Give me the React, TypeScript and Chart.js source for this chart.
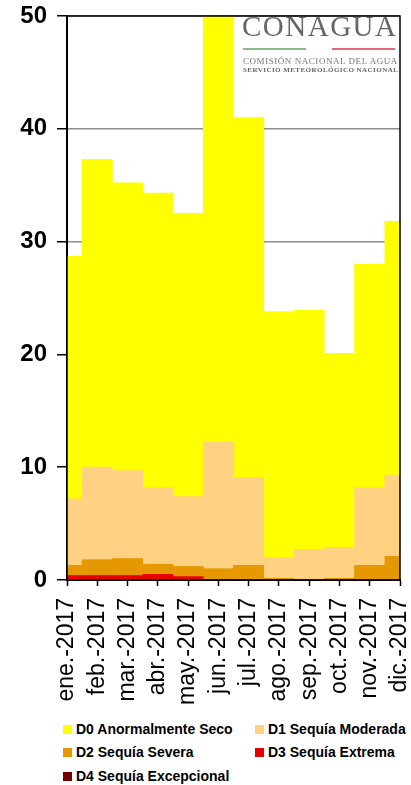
import React, { useEffect, useRef } from 'react';
import { Chart, registerables } from 'chart.js';

Chart.register(...registerables);

const categories = ['ene.-2017', 'feb.-2017', 'mar.-2017', 'abr.-2017', 'may.-2017', 'jun.-2017', 'jul.-2017', 'ago.-2017', 'sep.-2017', 'oct.-2017', 'nov.-2017', 'dic.-2017'];
const d0Values = [28.7, 37.3, 35.2, 34.3, 32.5, 50.0, 41.0, 23.8, 23.9, 20.1, 28.0, 31.8];
const d1Values = [7.2, 10.0, 9.7, 8.2, 7.4, 12.2, 9.1, 2.0, 2.7, 2.9, 8.2, 9.3];
const d2Values = [1.3, 1.8, 1.9, 1.4, 1.2, 1.0, 1.3, 0.15, 0.05, 0.15, 1.3, 2.1];
const d3Values = [0.4, 0.4, 0.4, 0.5, 0.3, 0, 0, 0, 0, 0, 0, 0];
const d4Values = [0, 0, 0, 0, 0, 0, 0, 0, 0, 0, 0, 0];
const seriesLabels = ['D0 Anormalmente Seco', 'D1 Sequía Moderada', 'D2 Sequía Severa', 'D3 Sequía Extrema', 'D4 Sequía Excepcional'];
const seriesColors = ['#FFFF00', '#FFD283', '#E69800', '#E60000', '#730000'];
const yMin = 0;
const yMax = 50;
const yStep = 10;

const FONT = "'Liberation Sans', Arial, sans-serif";
const SERIF = "'Liberation Serif', 'DejaVu Serif', serif";

export default function App() {
  const ref = useRef<HTMLCanvasElement>(null);

  useEffect(() => {
    document.body.style.margin = '0';
    const framePlugin = {
      id: 'frame',
      afterDatasetsDraw(chart: any) {
        const { ctx, chartArea: a } = chart;
        ctx.save();
        ctx.strokeStyle = '#000';
        ctx.lineWidth = 1.5;
        ctx.strokeRect(a.left, a.top, a.right - a.left, a.bottom - a.top);
        ctx.restore();
      },
    };
    const series = [d0Values, d1Values, d2Values, d3Values, d4Values];
    const chart = new Chart(ref.current as HTMLCanvasElement, {
      type: 'bar',
      data: {
        labels: categories,
        datasets: series.map((data, i) => ({
          label: seriesLabels[i],
          data,
          backgroundColor: seriesColors[i],
          borderWidth: 0,
          barPercentage: 1,
          categoryPercentage: 1,
          grouped: false,
          order: 5 - i,
          clip: 0,
        })) as any,
      },
      options: {
        responsive: false,
        animation: false,
        layout: { padding: { top: 16, right: 11, left: 0, bottom: 0 } },
        plugins: { legend: { display: false }, tooltip: { enabled: false } },
        scales: {
          x: {
            offset: false,
            grid: { offset: false, drawOnChartArea: false, tickLength: 6, tickColor: '#000', tickWidth: 1.5 },
            border: { color: '#000', width: 2 },
            ticks: {
              minRotation: 90,
              maxRotation: 90,
              autoSkip: false,
              padding: 12,
              color: '#000',
              font: { family: FONT, size: 23 },
            },
            afterFit(s: any) {
              s.height = 130;
              s.paddingLeft = 0;
              s.paddingRight = 0;
            },
          },
          y: {
            min: yMin,
            max: yMax,
            ticks: {
              stepSize: yStep,
              padding: 10,
              color: '#000',
              font: { family: FONT, size: 24, weight: 'bold' },
            },
            grid: { color: '#8c8c8c', lineWidth: 1.5, tickColor: '#000', tickLength: 10, tickWidth: 1.5 },
            border: { color: '#000', width: 2 },
            afterFit(s: any) {
              s.width = 67;
              s.paddingTop = 0;
              s.paddingBottom = 0;
            },
          },
        },
      } as any,
      plugins: [framePlugin],
    });
    return () => chart.destroy();
  }, []);

  const legendPos = [
    { left: 63, top: 729 },
    { left: 255, top: 729 },
    { left: 63, top: 752 },
    { left: 255, top: 752 },
    { left: 63, top: 776 },
  ];

  return (
    <div style={{ position: 'fixed', left: 0, top: 0, width: 411, height: 785, background: '#fff', overflow: 'hidden' }}>
      <canvas ref={ref} width={411} height={710} style={{ position: 'absolute', left: 0, top: 0, width: 411, height: 710 }} />
      {/* Logo */}
      <div style={{ position: 'absolute', left: 235, top: 17, width: 164, height: 68, background: '#fff' }} />
      <div style={{ position: 'absolute', left: 242, top: 12, fontFamily: SERIF, fontSize: 29, lineHeight: '29px', color: '#666', letterSpacing: 1.5, whiteSpace: 'nowrap' }}>CONAGUA</div>
      <div style={{ position: 'absolute', left: 243, top: 48, width: 63, height: 2, background: '#86bd8a' }} />
      <div style={{ position: 'absolute', left: 332, top: 48, width: 63, height: 2, background: '#e26b78' }} />
      <div style={{ position: 'absolute', left: 243, top: 56, fontFamily: SERIF, fontSize: 9, lineHeight: '10px', color: '#777', letterSpacing: 0.55, whiteSpace: 'nowrap' }}>COMISIÓN NACIONAL DEL AGUA</div>
      <div style={{ position: 'absolute', left: 243, top: 66, fontFamily: SERIF, fontSize: 7, lineHeight: '8px', fontWeight: 'bold', color: '#666', letterSpacing: 0.45, whiteSpace: 'nowrap' }}>SERVICIO METEOROLÓGICO NACIONAL</div>
      {/* Legend */}
      {seriesLabels.map((label, i) => (
        <div key={label} style={{ position: 'absolute', left: legendPos[i].left, top: legendPos[i].top - 9, height: 18, display: 'flex', alignItems: 'center', whiteSpace: 'nowrap' }}>
          <span style={{ display: 'inline-block', width: 9, height: 9, background: seriesColors[i], marginRight: 4 }} />
          <span style={{ fontFamily: FONT, fontSize: 14, fontWeight: 'bold', color: '#000', lineHeight: '18px' }}>{label}</span>
        </div>
      ))}
    </div>
  );
}
